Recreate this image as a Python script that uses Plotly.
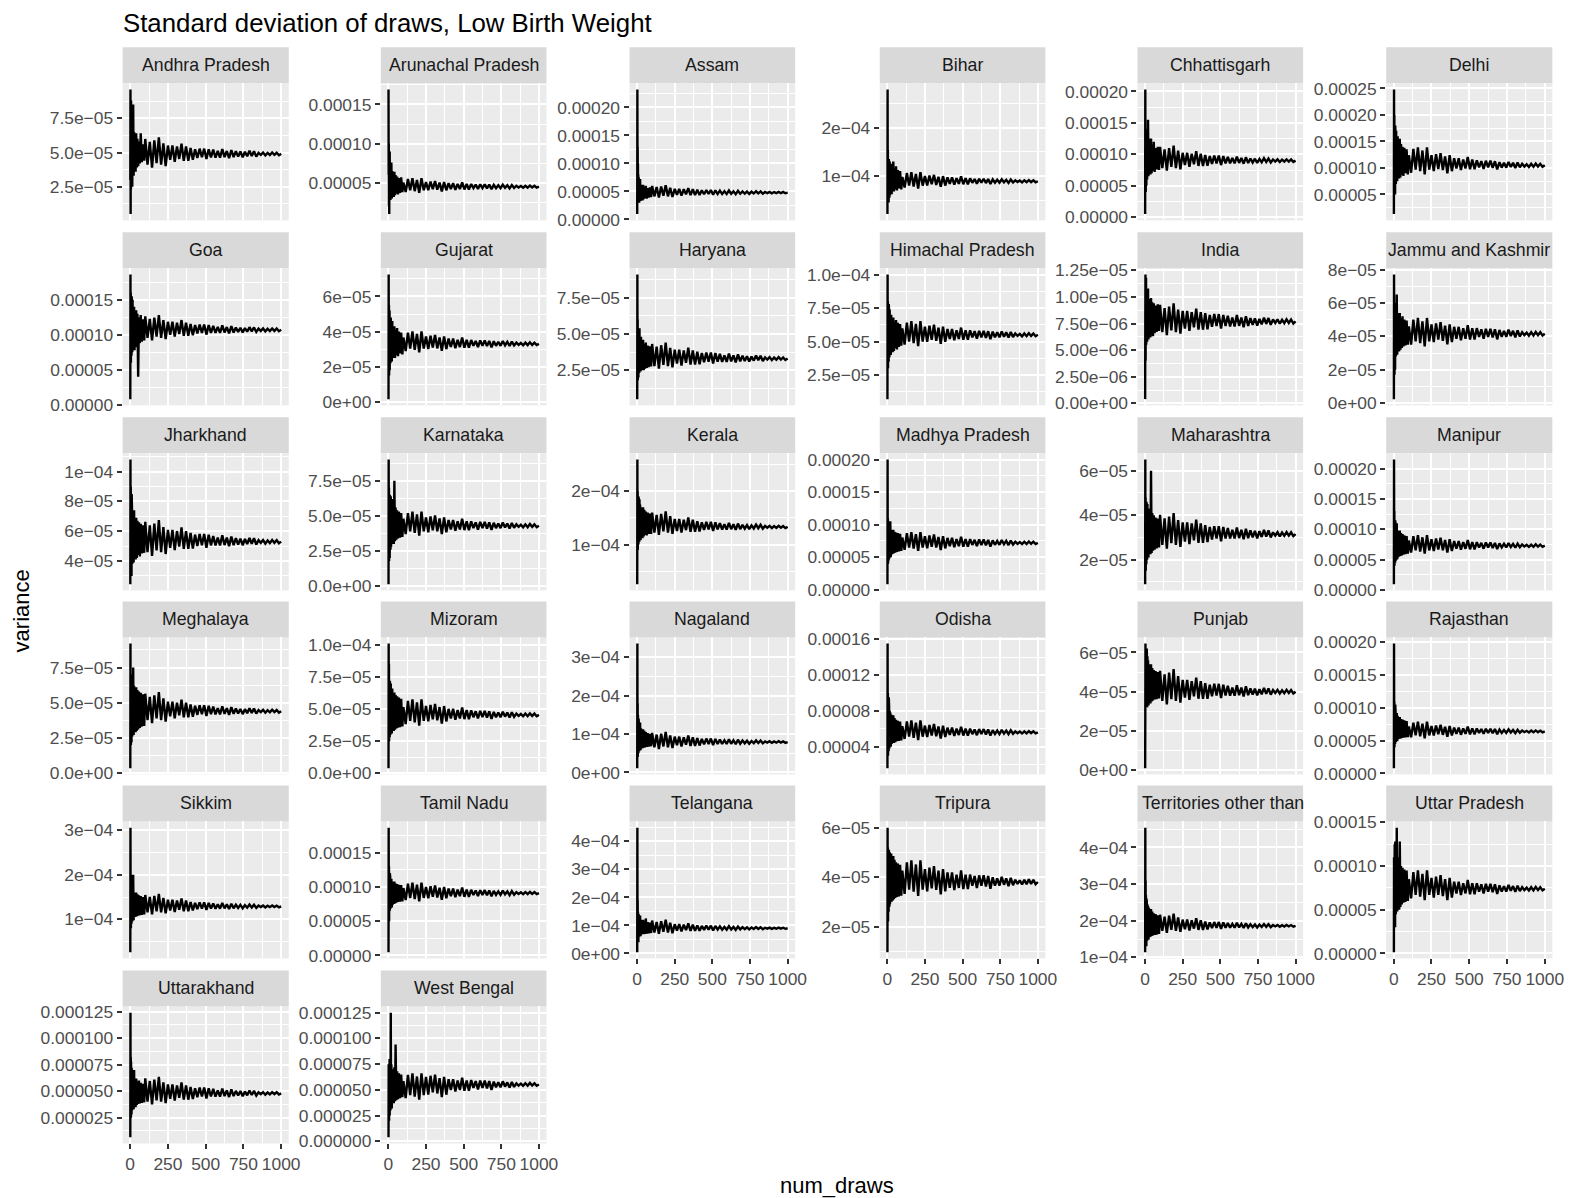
import plotly.graph_objects as go

# ---------------- data ----------------
draws = [1, 2, 3, 4, 5, 6, 7, 8, 9, 10,
         12, 14, 16, 18, 20, 23, 26, 29, 32, 36,
         40, 44, 48, 53, 58, 64, 70, 77, 85, 93,
         100, 115, 130, 145, 160, 175, 190, 205, 220, 235,
         250, 265, 280, 295, 310, 325, 340, 355, 370, 385,
         400, 415, 430, 445, 460, 475, 490, 505, 520, 535,
         550, 565, 580, 595, 610, 625, 640, 655, 670, 685,
         700, 715, 730, 745, 760, 775, 790, 805, 820, 835,
         850, 865, 880, 895, 910, 925, 940, 955, 970, 985, 1000]

VALUE_UNIT = 1e-7  # every series below is a variance in units of 1e-7

andhra_pradesh = [300, 960, 50, 700, 230, 880, 390, 620, 250, 720,
                  560, 250, 690, 380, 850, 330, 650, 420, 600, 360,
                  640, 390, 600, 400, 580, 420, 640, 430, 560, 440,
                  599, 412, 577, 390, 588, 423, 610, 412, 566, 401,
                  551, 446, 551, 432, 544, 453, 565, 439, 544, 439,
                  533, 447, 524, 461, 528, 465, 528, 452, 524, 465,
                  522, 462, 511, 462, 525, 466, 511, 459, 518, 466,
                  510, 470, 508, 465, 505, 473, 513, 475, 510, 470,
                  498, 483, 500, 479, 497, 482, 500, 483, 498, 480, 490]
arunachal_pradesh = [1690, 600, 1000, 200, 800, 100, 700, 300, 900, 350,
                     750, 280, 700, 330, 760, 300, 650, 350, 620, 320,
                     640, 340, 600, 360, 580, 350, 560, 370, 570, 380,
                     503, 382, 547, 404, 558, 393, 536, 371, 558, 404,
                     509, 404, 516, 418, 523, 411, 502, 390, 509, 404,
                     495, 420, 495, 410, 485, 420, 505, 415, 485, 415,
                     484, 431, 477, 421, 480, 431, 480, 428, 477, 417,
                     473, 430, 468, 430, 475, 435, 468, 428, 470, 433,
                     462, 440, 459, 437, 462, 438, 465, 440, 462, 438, 450]
assam = [95, 2320, 900, 1300, 500, 1000, 300, 800, 400, 750,
         700, 300, 650, 350, 720, 330, 620, 360, 600, 340,
         620, 360, 580, 380, 600, 370, 560, 390, 570, 400,
         599, 412, 577, 390, 588, 423, 610, 412, 566, 401,
         546, 441, 546, 427, 539, 448, 560, 434, 539, 434,
         530, 435, 520, 450, 525, 455, 525, 440, 520, 455,
         514, 454, 503, 454, 517, 458, 503, 451, 510, 458,
         500, 460, 498, 455, 495, 463, 503, 465, 500, 460,
         491, 471, 492, 467, 489, 470, 492, 471, 491, 468, 480]
bihar = [210, 2790, 700, 1540, 500, 1300, 600, 1200, 450, 1350,
         1250, 550, 1300, 600, 1200, 650, 1250, 620, 1150, 700,
         1300, 680, 1150, 720, 1200, 700, 1120, 740, 1100, 720,
         980, 760, 1060, 800, 1080, 780, 1040, 740, 1080, 800,
         996, 801, 1009, 827, 1022, 814, 983, 775, 996, 801,
         972, 837, 972, 819, 954, 837, 990, 828, 954, 828,
         949, 859, 937, 841, 943, 859, 943, 853, 937, 835,
         928, 860, 920, 860, 932, 868, 920, 856, 924, 864,
         910, 873, 905, 868, 910, 870, 915, 873, 910, 870, 890]
chhattisgarh = [50, 2030, 600, 1400, 400, 1200, 700, 1100, 500, 1250,
                1150, 600, 1300, 700, 1550, 650, 1250, 720, 1200, 680,
                1250, 700, 1150, 740, 1200, 720, 1100, 760, 1120, 750,
                1120, 780, 1080, 740, 1100, 800, 1140, 780, 1060, 760,
                1024, 829, 1024, 803, 1011, 842, 1050, 816, 1011, 816,
                991, 820, 973, 847, 982, 856, 982, 829, 973, 856,
                959, 857, 941, 857, 965, 863, 941, 851, 953, 863,
                934, 870, 930, 862, 926, 874, 938, 878, 934, 870,
                918, 885, 920, 878, 915, 883, 920, 885, 918, 880, 900]
delhi = [130, 2480, 800, 2000, 600, 1700, 900, 1500, 500, 1800,
         1600, 700, 1700, 800, 1500, 750, 1600, 850, 1450, 800,
         1550, 820, 1450, 870, 1400, 850, 1380, 900, 1350, 880,
         1240, 910, 1360, 970, 1390, 940, 1330, 880, 1390, 970,
         1240, 940, 1260, 980, 1280, 960, 1220, 900, 1240, 940,
         1184, 989, 1184, 963, 1158, 989, 1210, 976, 1158, 976,
         1146, 1011, 1128, 984, 1137, 1011, 1137, 1002, 1128, 975,
         1109, 1007, 1097, 1007, 1115, 1019, 1097, 1001, 1103, 1013,
         1078, 1026, 1071, 1019, 1078, 1022, 1085, 1026, 1078, 1022, 1050]
goa = [80, 1860, 900, 1600, 600, 1500, 800, 1400, 700, 1550,
       1450, 750, 1500, 800, 1350, 850, 1400, 780, 1300, 850,
       1350, 820, 1300, 400, 1250, 880, 1280, 900, 1220, 920,
       1262, 956, 1226, 920, 1244, 974, 1280, 956, 1208, 938,
       1185, 998, 1185, 973, 1173, 1010, 1210, 985, 1173, 985,
       1155, 993, 1138, 1019, 1146, 1027, 1146, 1002, 1138, 1027,
       1128, 1026, 1110, 1026, 1134, 1032, 1110, 1020, 1122, 1032,
       1104, 1040, 1100, 1032, 1096, 1044, 1108, 1048, 1104, 1040,
       1088, 1055, 1090, 1048, 1085, 1053, 1090, 1055, 1088, 1050, 1070]
gujarat = [15, 725, 200, 550, 150, 480, 250, 520, 180, 450,
           470, 220, 480, 240, 440, 230, 460, 250, 420, 260,
           430, 250, 410, 265, 420, 260, 400, 275, 395, 270,
           366, 289, 394, 303, 401, 296, 387, 282, 401, 303,
           372, 300, 376, 309, 381, 304, 367, 290, 372, 300,
           360, 312, 360, 305, 353, 312, 366, 308, 353, 308,
           352, 319, 347, 312, 350, 319, 350, 317, 347, 310,
           345, 319, 342, 319, 346, 322, 342, 318, 343, 321,
           337, 324, 335, 322, 337, 323, 339, 324, 337, 323, 330]
haryana = [50, 910, 250, 600, 180, 540, 300, 480, 200, 520,
           500, 230, 540, 250, 470, 240, 480, 260, 450, 250,
           460, 250, 430, 260, 440, 265, 420, 270, 415, 275,
           431, 278, 413, 260, 422, 287, 440, 278, 404, 269,
           392, 295, 392, 282, 386, 301, 405, 288, 386, 288,
           377, 291, 368, 304, 372, 309, 372, 296, 368, 309,
           362, 307, 352, 307, 365, 311, 352, 304, 359, 311,
           349, 313, 346, 309, 344, 316, 351, 318, 349, 313,
           338, 323, 340, 319, 337, 322, 340, 323, 338, 320, 330]
himachal_pradesh = [70, 1000, 400, 800, 300, 750, 450, 700, 350, 780,
                    720, 380, 740, 420, 680, 400, 700, 430, 660, 420,
                    680, 430, 650, 450, 660, 440, 640, 460, 630, 470,
                    598, 477, 642, 499, 653, 488, 631, 466, 653, 499,
                    611, 498, 618, 513, 626, 506, 603, 483, 611, 498,
                    594, 519, 594, 509, 584, 519, 604, 514, 584, 514,
                    584, 531, 577, 521, 580, 531, 580, 528, 577, 517,
                    574, 531, 569, 531, 576, 536, 569, 529, 571, 534,
                    560, 542, 557, 539, 560, 540, 562, 542, 560, 540, 550]
india = [4, 80, 121, 40, 110, 60, 118, 55, 100, 60,
         105, 58, 100, 62, 108, 60, 98, 63, 96, 62,
         99, 64, 95, 63, 94, 66, 92, 67, 93, 68,
         92.5, 67, 89.5, 64, 91, 68.5, 94, 67, 88, 65.5,
         86.8, 70.3, 86.8, 68.1, 85.7, 71.4, 89, 69.2, 85.7, 69.2,
         84.7, 69.5, 83.1, 71.9, 83.9, 72.7, 83.9, 70.3, 83.1, 72.7,
         82.4, 72.2, 80.6, 72.2, 83, 72.8, 80.6, 71.6, 81.8, 72.8,
         80.2, 73.8, 79.8, 73, 79.4, 74.2, 80.6, 74.6, 80.2, 73.8,
         78.8, 75.5, 79, 74.8, 78.5, 75.3, 79, 75.5, 78.8, 75, 77]
jammu_and_kashmir = [24, 770, 300, 600, 170, 550, 250, 500, 200, 560,
                     520, 280, 560, 300, 650, 290, 540, 320, 520, 310,
                     540, 320, 510, 330, 520, 340, 500, 345, 495, 350,
                     460, 350, 500, 370, 510, 360, 490, 340, 510, 370,
                     471, 366, 478, 380, 485, 373, 464, 352, 471, 366,
                     457, 385, 457, 376, 448, 385, 467, 381, 448, 381,
                     449, 396, 442, 386, 445, 396, 445, 393, 442, 382,
                     438, 397, 433, 397, 440, 402, 433, 394, 435, 399,
                     425, 407, 422, 404, 425, 405, 427, 407, 425, 405, 415]
jharkhand = [245, 1080, 400, 900, 350, 800, 450, 750, 300, 850,
             760, 380, 720, 400, 700, 390, 740, 420, 680, 410,
             690, 420, 670, 440, 660, 430, 650, 450, 640, 455,
             663, 459, 639, 435, 651, 471, 675, 459, 627, 447,
             609, 489, 609, 473, 601, 497, 625, 481, 601, 481,
             588, 483, 577, 500, 582, 505, 582, 489, 577, 505,
             568, 504, 557, 504, 572, 507, 557, 500, 564, 507,
             553, 511, 550, 506, 548, 514, 555, 516, 553, 511,
             540, 522, 541, 517, 538, 520, 541, 522, 540, 519, 530]
karnataka = [15, 900, 250, 700, 180, 620, 300, 560, 200, 650,
             600, 260, 640, 280, 580, 300, 620, 310, 560, 300,
             750, 320, 560, 330, 540, 340, 530, 345, 520, 350,
             480, 370, 520, 390, 530, 380, 510, 360, 530, 390,
             489, 384, 496, 398, 503, 391, 482, 370, 489, 384,
             471, 404, 471, 395, 462, 404, 480, 399, 462, 399,
             461, 413, 454, 403, 458, 413, 458, 410, 454, 400,
             451, 413, 446, 413, 453, 418, 446, 411, 449, 416,
             440, 422, 437, 419, 440, 420, 442, 422, 440, 420, 430]
kerala = [260, 2590, 1100, 2000, 900, 1850, 1200, 1750, 1000, 1900,
          1800, 1050, 1850, 1100, 1750, 1080, 1700, 1150, 1680, 1120,
          1700, 1150, 1650, 1180, 1620, 1170, 1600, 1200, 1580, 1200,
          1598, 1224, 1554, 1180, 1576, 1246, 1620, 1224, 1532, 1202,
          1480, 1255, 1480, 1225, 1465, 1270, 1510, 1240, 1465, 1240,
          1435, 1245, 1415, 1275, 1425, 1285, 1425, 1255, 1415, 1285,
          1401, 1282, 1380, 1282, 1408, 1289, 1380, 1275, 1394, 1289,
          1369, 1297, 1365, 1288, 1360, 1302, 1374, 1306, 1369, 1297,
          1348, 1315, 1350, 1308, 1345, 1313, 1350, 1315, 1348, 1310, 1330]
madhya_pradesh = [85, 2000, 500, 1100, 400, 1050, 550, 1000, 450, 950,
                  1000, 480, 950, 520, 1050, 500, 920, 540, 900, 550,
                  920, 560, 890, 570, 880, 580, 870, 590, 860, 595,
                  801, 614, 869, 648, 886, 631, 852, 597, 886, 648,
                  823, 635, 835, 660, 848, 648, 810, 610, 823, 635,
                  796, 669, 796, 652, 779, 669, 813, 660, 779, 660,
                  778, 688, 766, 670, 772, 688, 772, 682, 766, 664,
                  758, 690, 750, 690, 762, 698, 750, 686, 754, 694,
                  738, 705, 733, 700, 738, 702, 742, 705, 738, 702, 720]
maharashtra = [90, 650, 200, 480, 150, 450, 230, 420, 180, 460,
               440, 200, 450, 220, 420, 210, 430, 230, 400, 225,
               600, 230, 410, 240, 400, 245, 390, 250, 385, 255,
               402, 266, 386, 250, 394, 274, 410, 266, 378, 258,
               368, 281, 368, 270, 363, 287, 380, 276, 363, 276,
               355, 279, 347, 291, 351, 295, 351, 283, 347, 295,
               342, 295, 334, 295, 345, 297, 334, 292, 339, 297,
               332, 300, 330, 296, 328, 302, 334, 304, 332, 300,
               323, 308, 324, 305, 322, 307, 324, 308, 323, 306, 315]
manipur = [95, 2150, 500, 1300, 400, 1100, 600, 1000, 450, 1150,
           1050, 480, 1000, 520, 1100, 500, 980, 540, 950, 550,
           980, 560, 940, 570, 920, 580, 900, 590, 890, 600,
           814, 616, 886, 652, 904, 634, 868, 598, 904, 652,
           836, 641, 849, 667, 862, 654, 823, 615, 836, 641,
           806, 679, 806, 662, 789, 679, 823, 670, 789, 670,
           788, 698, 776, 680, 782, 698, 782, 692, 776, 674,
           768, 700, 760, 700, 772, 708, 760, 696, 764, 704,
           748, 715, 743, 710, 748, 712, 752, 715, 748, 712, 730]
meghalaya = [35, 920, 250, 700, 200, 650, 300, 600, 220, 680,
             640, 260, 650, 280, 750, 270, 620, 300, 600, 290,
             610, 300, 590, 310, 580, 320, 570, 330, 560, 335,
             564, 377, 542, 355, 553, 388, 575, 377, 531, 366,
             508, 403, 508, 389, 501, 410, 522, 396, 501, 396,
             487, 401, 478, 414, 482, 419, 482, 406, 478, 419,
             472, 417, 462, 417, 475, 421, 462, 414, 469, 421,
             459, 423, 456, 419, 454, 426, 461, 428, 459, 423,
             448, 433, 450, 429, 447, 432, 450, 433, 448, 430, 440]
mizoram = [40, 1010, 300, 850, 250, 700, 350, 650, 280, 720,
           680, 300, 700, 320, 640, 310, 660, 340, 620, 330,
           630, 340, 610, 350, 600, 355, 590, 360, 580, 365,
           516, 384, 564, 408, 576, 396, 552, 372, 576, 408,
           524, 404, 532, 420, 540, 412, 516, 388, 524, 404,
           502, 427, 502, 417, 492, 427, 512, 422, 492, 422,
           490, 437, 483, 427, 486, 437, 486, 434, 483, 423,
           478, 437, 473, 437, 480, 442, 473, 434, 475, 439,
           465, 447, 462, 444, 465, 445, 467, 447, 465, 445, 455]
nagaland = [110, 3350, 600, 1800, 400, 1500, 700, 1300, 500, 1400,
            1250, 550, 1200, 600, 1300, 580, 1150, 620, 1100, 630,
            1120, 640, 1080, 650, 1050, 660, 1020, 670, 1000, 680,
            1028, 654, 984, 610, 1006, 676, 1050, 654, 962, 632,
            930, 705, 930, 675, 915, 720, 960, 690, 915, 690,
            890, 700, 870, 730, 880, 740, 880, 710, 870, 740,
            858, 739, 837, 739, 865, 746, 837, 732, 851, 746,
            828, 756, 824, 747, 819, 761, 833, 765, 828, 756,
            808, 775, 810, 768, 805, 773, 810, 775, 808, 770, 790]
odisha = [160, 1550, 400, 1000, 300, 900, 450, 850, 350, 950,
          850, 380, 800, 420, 780, 400, 760, 430, 740, 440,
          750, 440, 720, 450, 700, 460, 690, 465, 680, 470,
          629, 486, 681, 512, 694, 499, 668, 473, 694, 512,
          635, 507, 643, 524, 652, 516, 626, 490, 635, 507,
          612, 530, 612, 519, 601, 530, 623, 524, 601, 524,
          600, 540, 592, 528, 596, 540, 596, 536, 592, 524,
          585, 541, 580, 541, 588, 546, 580, 539, 583, 544,
          571, 550, 568, 547, 571, 549, 574, 550, 571, 549, 560]
punjab = [10, 300, 645, 350, 600, 380, 580, 330, 560, 400,
          620, 320, 580, 340, 560, 330, 540, 350, 530, 340,
          540, 350, 520, 355, 510, 360, 505, 362, 500, 365,
          506, 353, 488, 335, 497, 362, 515, 353, 479, 344,
          460, 370, 460, 358, 454, 376, 472, 364, 454, 364,
          444, 364, 435, 377, 440, 381, 440, 368, 435, 381,
          430, 379, 421, 379, 433, 382, 421, 376, 427, 382,
          417, 385, 415, 381, 413, 387, 419, 389, 417, 385,
          408, 393, 409, 390, 407, 392, 409, 393, 408, 391, 400]
rajasthan = [80, 1980, 500, 1100, 400, 950, 550, 900, 450, 1050,
             950, 480, 900, 500, 920, 490, 880, 520, 850, 530,
             860, 530, 830, 540, 820, 545, 810, 550, 800, 555,
             715, 550, 775, 580, 790, 565, 760, 535, 790, 580,
             722, 579, 731, 598, 741, 589, 712, 560, 722, 579,
             700, 603, 700, 590, 687, 603, 713, 596, 687, 596,
             685, 617, 676, 604, 680, 617, 680, 613, 676, 599,
             669, 618, 663, 618, 672, 624, 663, 615, 666, 621,
             653, 629, 650, 626, 653, 627, 656, 629, 653, 627, 640]
sikkim = [260, 3060, 1000, 2000, 800, 1800, 1100, 1700, 900, 1750,
          1650, 950, 1700, 1000, 2000, 980, 1600, 1050, 1580, 1060,
          1600, 1070, 1560, 1080, 1540, 1090, 1520, 1100, 1500, 1110,
          1547, 1156, 1501, 1110, 1524, 1179, 1570, 1156, 1478, 1133,
          1438, 1198, 1438, 1166, 1422, 1214, 1470, 1182, 1422, 1182,
          1390, 1200, 1370, 1230, 1380, 1240, 1380, 1210, 1370, 1240,
          1358, 1239, 1337, 1239, 1365, 1246, 1337, 1232, 1351, 1246,
          1328, 1256, 1324, 1247, 1319, 1261, 1333, 1265, 1328, 1256,
          1308, 1275, 1310, 1268, 1305, 1273, 1310, 1275, 1308, 1270, 1290]
tamil_nadu = [47, 1865, 600, 1300, 500, 1150, 700, 1100, 650, 1200,
              1150, 680, 1100, 720, 1120, 700, 1080, 740, 1060, 750,
              1080, 760, 1050, 770, 1040, 780, 1030, 785, 1025, 790,
              983, 807, 1047, 839, 1063, 823, 1031, 791, 1063, 839,
              999, 834, 1010, 856, 1021, 845, 988, 812, 999, 834,
              976, 864, 976, 849, 961, 864, 991, 856, 961, 856,
              958, 883, 948, 868, 953, 883, 953, 878, 948, 863,
              942, 884, 935, 884, 945, 891, 935, 880, 938, 887,
              924, 897, 921, 894, 924, 896, 928, 897, 924, 896, 910]
telangana = [45, 4490, 700, 1900, 500, 1500, 650, 1300, 400, 1400,
             1300, 600, 1250, 650, 1350, 620, 1200, 680, 1150, 700,
             1200, 690, 1150, 700, 1250, 710, 1120, 720, 1100, 730,
             1175, 750, 1125, 700, 1150, 775, 1200, 750, 1100, 725,
             1045, 820, 1045, 790, 1030, 835, 1075, 805, 1030, 805,
             1002, 812, 982, 842, 992, 852, 992, 822, 982, 852,
             969, 850, 948, 850, 976, 857, 948, 843, 962, 857,
             938, 866, 934, 857, 929, 871, 943, 875, 938, 866,
             918, 885, 920, 878, 915, 883, 920, 885, 918, 880, 900]
tripura = [96, 600, 250, 520, 220, 480, 300, 500, 260, 510,
           490, 280, 500, 290, 480, 300, 495, 300, 470, 305,
           485, 310, 470, 315, 460, 320, 455, 322, 450, 325,
           426, 332, 460, 349, 468, 341, 451, 324, 468, 349,
           432, 342, 438, 354, 444, 348, 426, 330, 432, 342,
           419, 356, 419, 347, 410, 356, 427, 351, 410, 351,
           410, 365, 404, 356, 407, 365, 407, 362, 404, 353,
           399, 365, 395, 365, 401, 369, 395, 363, 397, 367,
           389, 372, 387, 370, 389, 371, 391, 372, 389, 371, 380]
territories_other_than = [1140, 4540, 1600, 3100, 1400, 2700, 1700, 2500, 1300, 2600,
                          2500, 1450, 2450, 1500, 2400, 1480, 2350, 1550, 2300, 1560,
                          2320, 1580, 2250, 1600, 2200, 1610, 2180, 1620, 2150, 1640,
                          2164, 1722, 2112, 1670, 2138, 1748, 2190, 1722, 2086, 1696,
                          2030, 1768, 2030, 1733, 2013, 1785, 2065, 1750, 2013, 1750,
                          1974, 1765, 1952, 1798, 1963, 1809, 1963, 1776, 1952, 1809,
                          1936, 1808, 1913, 1808, 1943, 1816, 1913, 1801, 1928, 1816,
                          1903, 1823, 1898, 1813, 1893, 1828, 1908, 1833, 1903, 1823,
                          1880, 1843, 1882, 1835, 1877, 1840, 1882, 1843, 1880, 1838, 1860]
uttar_pradesh = [14, 1100, 400, 1000, 350, 1250, 500, 950, 300, 1280,
                 1000, 450, 1200, 500, 1440, 480, 1100, 520, 1050, 500,
                 1280, 530, 1000, 560, 980, 580, 960, 590, 950, 600,
                 850, 630, 930, 670, 950, 650, 910, 610, 950, 670,
                 865, 640, 880, 670, 895, 655, 850, 610, 865, 640,
                 822, 687, 822, 669, 804, 687, 840, 678, 804, 678,
                 804, 706, 791, 687, 797, 706, 797, 700, 791, 680,
                 780, 708, 771, 708, 784, 717, 771, 704, 776, 713,
                 758, 725, 753, 720, 758, 722, 762, 725, 758, 722, 740]
uttarakhand = [66, 1240, 300, 820, 250, 780, 350, 700, 280, 720,
               650, 320, 680, 340, 620, 330, 700, 360, 600, 350,
               620, 370, 590, 380, 600, 385, 580, 390, 570, 395,
               622, 401, 596, 375, 609, 414, 635, 401, 583, 388,
               564, 429, 564, 411, 555, 438, 582, 420, 555, 420,
               540, 426, 528, 444, 534, 450, 534, 432, 528, 450,
               521, 449, 508, 449, 525, 454, 508, 445, 517, 454,
               503, 459, 501, 453, 498, 461, 506, 464, 503, 459,
               490, 472, 491, 467, 488, 470, 491, 472, 490, 469, 480]
west_bengal = [40, 750, 300, 700, 200, 650, 350, 800, 250, 700,
               800, 300, 1250, 350, 750, 320, 700, 380, 680, 370,
               720, 390, 940, 400, 680, 410, 660, 420, 650, 430,
               585, 420, 645, 450, 660, 435, 630, 405, 660, 450,
               626, 453, 637, 476, 649, 465, 614, 430, 626, 453,
               604, 499, 604, 485, 590, 499, 618, 492, 590, 492,
               595, 520, 585, 505, 590, 520, 590, 515, 585, 500,
               580, 525, 573, 525, 583, 532, 573, 522, 577, 529,
               564, 542, 561, 539, 564, 540, 567, 542, 564, 540, 552]

states = ["Andhra Pradesh", "Arunachal Pradesh", "Assam", "Bihar", "Chhattisgarh", "Delhi",
          "Goa", "Gujarat", "Haryana", "Himachal Pradesh", "India", "Jammu and Kashmir",
          "Jharkhand", "Karnataka", "Kerala", "Madhya Pradesh", "Maharashtra", "Manipur",
          "Meghalaya", "Mizoram", "Nagaland", "Odisha", "Punjab", "Rajasthan",
          "Sikkim", "Tamil Nadu", "Telangana", "Tripura", "Territories other than", "Uttar Pradesh",
          "Uttarakhand", "West Bengal"]
series = [andhra_pradesh, arunachal_pradesh, assam, bihar, chhattisgarh, delhi,
          goa, gujarat, haryana, himachal_pradesh, india, jammu_and_kashmir,
          jharkhand, karnataka, kerala, madhya_pradesh, maharashtra, manipur,
          meghalaya, mizoram, nagaland, odisha, punjab, rajasthan,
          sikkim, tamil_nadu, telangana, tripura, territories_other_than, uttar_pradesh,
          uttarakhand, west_bengal]

M = "\u2212"
P5 = ["0.00000", "0.00005", "0.00010", "0.00015", "0.00020"]
ytick_labels = [
    ["2.5e" + M + "05", "5.0e" + M + "05", "7.5e" + M + "05"],
    ["0.00005", "0.00010", "0.00015"],
    P5,
    ["1e" + M + "04", "2e" + M + "04"],
    P5,
    ["0.00005", "0.00010", "0.00015", "0.00020", "0.00025"],
    ["0.00000", "0.00005", "0.00010", "0.00015"],
    ["0e+00", "2e" + M + "05", "4e" + M + "05", "6e" + M + "05"],
    ["2.5e" + M + "05", "5.0e" + M + "05", "7.5e" + M + "05"],
    ["2.5e" + M + "05", "5.0e" + M + "05", "7.5e" + M + "05", "1.0e" + M + "04"],
    ["0.00e+00", "2.50e" + M + "06", "5.00e" + M + "06", "7.50e" + M + "06", "1.00e" + M + "05", "1.25e" + M + "05"],
    ["0e+00", "2e" + M + "05", "4e" + M + "05", "6e" + M + "05", "8e" + M + "05"],
    ["2e" + M + "05", "4e" + M + "05", "6e" + M + "05", "8e" + M + "05", "1e" + M + "04"],
    ["0.0e+00", "2.5e" + M + "05", "5.0e" + M + "05", "7.5e" + M + "05"],
    ["1e" + M + "04", "2e" + M + "04"],
    P5,
    ["2e" + M + "05", "4e" + M + "05", "6e" + M + "05"],
    P5,
    ["0.0e+00", "2.5e" + M + "05", "5.0e" + M + "05", "7.5e" + M + "05"],
    ["0.0e+00", "2.5e" + M + "05", "5.0e" + M + "05", "7.5e" + M + "05", "1.0e" + M + "04"],
    ["0e+00", "1e" + M + "04", "2e" + M + "04", "3e" + M + "04"],
    ["0.00004", "0.00008", "0.00012", "0.00016"],
    ["0e+00", "2e" + M + "05", "4e" + M + "05", "6e" + M + "05"],
    P5,
    ["1e" + M + "04", "2e" + M + "04", "3e" + M + "04"],
    ["0.00000", "0.00005", "0.00010", "0.00015"],
    ["0e+00", "1e" + M + "04", "2e" + M + "04", "3e" + M + "04", "4e" + M + "04"],
    ["2e" + M + "05", "4e" + M + "05", "6e" + M + "05"],
    ["1e" + M + "04", "2e" + M + "04", "3e" + M + "04", "4e" + M + "04"],
    ["0.00000", "0.00005", "0.00010", "0.00015"],
    ["0.000025", "0.000050", "0.000075", "0.000100", "0.000125"],
    ["0.000000", "0.000025", "0.000050", "0.000075", "0.000100", "0.000125"],
]
x_ticks = [0, 250, 500, 750, 1000]
x_labels = ["0", "250", "500", "750", "1000"]

# ---------------- layout geometry (target picture pixels) ----------------
W, H = 1569, 1198
# the captured page is slightly rescaled/offset; compensate so targets land right
CAP_SX, CAP_OX = 0.9915, 1.0
CAP_SY, CAP_OY = 0.984, 8.7
COL_X = [(123.5, 289.5), (381.5, 547), (630, 795.5), (880, 1045.5), (1137.5, 1303), (1386, 1552)]
ROW_Y = [47, 232, 417, 601, 785, 970]   # strip tops
STRIP_H = 36
PANEL_H = 137
FONT = "Liberation Sans, Arial, Helvetica, sans-serif"


def px(x):
    return ((x - CAP_OX) / CAP_SX) / W


def py(y):
    return 1 - ((y - CAP_OY) / CAP_SY) / H


fig = go.Figure()
layout = {}
shapes = []
annotations = []

x_minor = [(a + b) / 2 for a, b in zip(x_ticks[:-1], x_ticks[1:])]

for i, (name, vals, labels) in enumerate(zip(states, series, ytick_labels)):
    assert len(vals) == len(draws), (name, len(vals))
    r, c = divmod(i, 6)
    x0, x1 = COL_X[c]
    st = ROW_Y[r]
    p_top = st + STRIP_H
    p_bot = p_top + PANEL_H
    y = [v * VALUE_UNIT for v in vals]
    lo, hi = min(y), max(y)
    pad = 0.05 * (hi - lo)
    tickvals = [float(s.replace(M, "-")) for s in labels]
    step = tickvals[1] - tickvals[0]
    y_minor = [tickvals[0] - step / 2] + [t + step / 2 for t in tickvals]
    k = "" if i == 0 else str(i + 1)
    fig.add_trace(go.Scatter(
        x=draws, y=y, mode="lines",
        line=dict(color="black", width=2.4, simplify=False),
        xaxis="x" + k, yaxis="y" + k,
        showlegend=False, hoverinfo="skip"))
    show_x = (r == 5) if c < 2 else (r == 4)
    layout["xaxis" + k] = dict(
        domain=[px(x0), px(x1)], anchor="y" + k, range=[-50, 1050],
        tickmode="array", tickvals=x_ticks, ticktext=x_labels,
        showticklabels=show_x, ticks="outside" if show_x else "",
        ticklen=5, tickwidth=2, tickcolor="#333333",
        tickfont=dict(family=FONT, size=17.4, color="#4D4D4D"),
        showgrid=True, gridcolor="white", gridwidth=2,
        minor=dict(tickmode="array", tickvals=x_minor, showgrid=True,
                   gridcolor="white", gridwidth=1, ticks=""),
        zeroline=False, showline=False, fixedrange=True)
    layout["yaxis" + k] = dict(
        domain=[py(p_bot), py(p_top)], anchor="x" + k,
        range=[lo - pad, hi + pad],
        tickmode="array", tickvals=tickvals, ticktext=labels,
        ticks="outside", ticklen=5, tickwidth=2, tickcolor="#333333",
        tickfont=dict(family=FONT, size=17.4, color="#4D4D4D"),
        showgrid=True, gridcolor="white", gridwidth=2,
        minor=dict(tickmode="array", tickvals=y_minor, showgrid=True,
                   gridcolor="white", gridwidth=1, ticks=""),
        zeroline=False, showline=False, fixedrange=True)
    # facet strip
    shapes.append(dict(type="rect", xref="paper", yref="paper",
                       x0=px(x0), x1=px(x1), y0=py(p_top), y1=py(st),
                       fillcolor="#D9D9D9", line=dict(width=0), layer="below"))
    if name == "Territories other than":
        annotations.append(dict(text=name, xref="paper", yref="paper",
                                x=px(x0 + 3), y=py(st + STRIP_H / 2),
                                xanchor="left", yanchor="middle", showarrow=False,
                                font=dict(family=FONT, size=17.7, color="#1A1A1A")))
    else:
        annotations.append(dict(text=name, xref="paper", yref="paper",
                                x=px((x0 + x1) / 2), y=py(st + STRIP_H / 2),
                                xanchor="center", yanchor="middle", showarrow=False,
                                font=dict(family=FONT, size=17.7, color="#1A1A1A")))

annotations.append(dict(text="Standard deviation of draws, Low Birth Weight",
                        xref="paper", yref="paper", x=px(122), y=py(23),
                        xanchor="left", yanchor="middle", showarrow=False,
                        font=dict(family=FONT, size=25.8, color="black")))
annotations.append(dict(text="variance", xref="paper", yref="paper",
                        x=px(22), y=py(611), xanchor="center", yanchor="middle",
                        textangle=-90, showarrow=False,
                        font=dict(family=FONT, size=22, color="black")))
annotations.append(dict(text="num_draws", xref="paper", yref="paper",
                        x=px(837), y=py(1185), xanchor="center", yanchor="middle",
                        showarrow=False,
                        font=dict(family=FONT, size=22, color="black")))

fig.update_layout(
    width=W, height=H, autosize=False,
    margin=dict(l=0, r=0, t=0, b=0),
    paper_bgcolor="white", plot_bgcolor="#EBEBEB",
    shapes=shapes, annotations=annotations,
    hovermode=False, showlegend=False,
    font=dict(family=FONT),
    **layout)

# pin the figure to the top-left corner of the page so it fills the window exactly
PIN_PAGE = ("document.body.style.margin='0';"
            "document.body.style.overflow='hidden';"
            "var gd=document.getElementById('{plot_id}');"
            "gd.style.position='absolute';gd.style.left='0px';gd.style.top='0px';")

fig.write_html("out.html", post_script=PIN_PAGE, config={"displayModeBar": False})
